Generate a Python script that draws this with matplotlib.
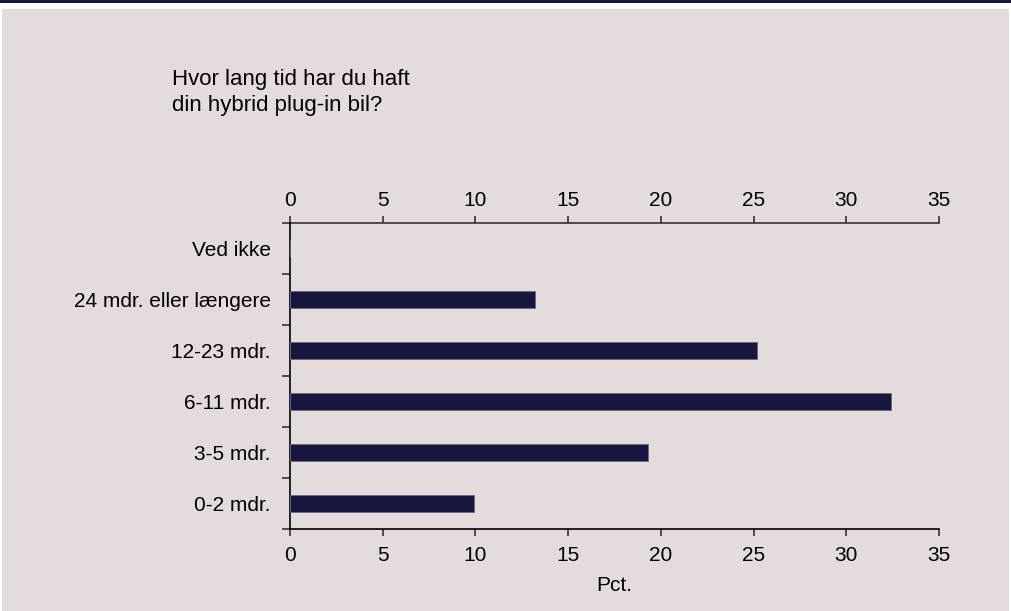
import numpy as np
import matplotlib
matplotlib.use("Agg")
from matplotlib import pyplot as plt
from matplotlib.patches import Rectangle

plt.rcParams['font.family'] = ['Liberation Sans', 'DejaVu Sans']

# data (bottom to top)
categories = ["0-2 mdr.", "3-5 mdr.", "6-11 mdr.", "12-23 mdr.",
              "24 mdr. eller længere", "Ved ikke"]
values = [9.9, 19.3, 32.4, 25.2, 13.2, 0.0]
x_ticks = [0, 5, 10, 15, 20, 25, 30, 35]

title_lines = ["Hvor lang tid har du haft", "din hybrid plug-in bil?"]
x_label = "Pct."

bg = "#e3dcda"
navy = "#16163e"

W, H = 1011, 611
fig = plt.figure(figsize=(W / 100, H / 100), dpi=100, facecolor="white")

# panel background and top rule
fig.patches.append(Rectangle((2 / W, 0), 1007 / W, (H - 9) / H,
                             transform=fig.transFigure, facecolor=bg,
                             edgecolor="none", zorder=-5))
fig.patches.append(Rectangle((0, (H - 2.5) / H), 1, 2.5 / H,
                             transform=fig.transFigure, facecolor=navy,
                             edgecolor="none", zorder=-5))

ax = fig.add_axes([290 / W, (H - 529) / H, 649 / W, 306 / H])
ax.set_facecolor("none")
ax.set_zorder(2)

y = np.arange(len(categories))
ax.barh(y, values, height=0.34, color=navy, edgecolor="#6a6a80",
        linewidth=0.6, zorder=3)

ax.set_xlim(0, 35)
ax.set_ylim(-0.5, len(categories) - 0.5)

# bottom axis
ax.set_xticks(x_ticks)
ax.tick_params(axis="x", direction="out", length=5, width=1.2,
               color="#333333", labelsize=15, pad=7)

# top axis (same scale)
top = ax.secondary_xaxis("top")
top.set_xticks(x_ticks)
top.tick_params(direction="out", length=5, width=1.2, color="#333333",
                labelsize=15, pad=4)
top.spines["top"].set_linewidth(1.2)
top.spines["top"].set_color("#333333")

# category boundary ticks on left, labels at centers
ax.set_yticks(np.arange(-0.5, len(categories), 1.0))
ax.set_yticklabels([])
ax.set_yticks(y, minor=True)
ax.set_yticklabels(categories, minor=True)
ax.tick_params(axis="y", which="major", direction="out", length=6,
               width=1.2, color="#333333")
ax.tick_params(axis="y", which="minor", length=0, labelsize=15, pad=14)

ax.spines["right"].set_visible(False)
ax.spines["top"].set_visible(False)
for side in ["left", "bottom"]:
    ax.spines[side].set_linewidth(1.2)
    ax.spines[side].set_color("black")

ax.set_xlabel(x_label, fontsize=15, labelpad=8)

fig.text(172 / W, 1 - 85 / H, title_lines[0], fontsize=16, va="baseline",
         ha="left")
fig.text(172 / W, 1 - 111 / H, title_lines[1], fontsize=16, va="baseline",
         ha="left")

fig.savefig("out.png", dpi=100, facecolor="white")
